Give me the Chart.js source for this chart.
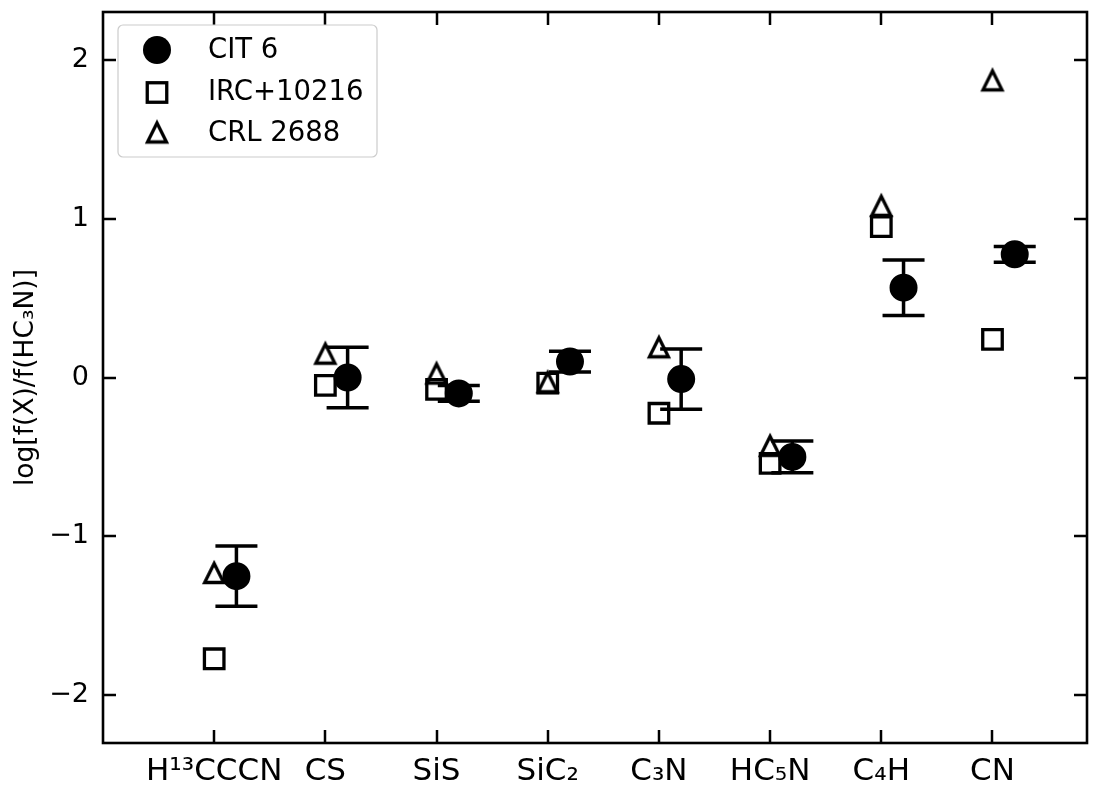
<!DOCTYPE html>
<html><head><meta charset="utf-8">
<script src="https://cdn.jsdelivr.net/npm/chart.js@4/dist/chart.umd.min.js"></script>
<style>html,body{margin:0;padding:0;background:#fff;} canvas{display:block;}</style>
</head><body>
<canvas id="c" width="1098" height="787"></canvas>
<script>
// ---- data ----
const categories = ['H¹³CCCN', 'CS', 'SiS', 'SiC₂', 'C₃N', 'HC₅N', 'C₄H', 'CN'];
const cit6      = [-1.25, 0.00, -0.10, 0.10, -0.01, -0.50, 0.565, 0.775];
const cit6Err   = [0.19, 0.19, 0.05, 0.065, 0.19, 0.10, 0.175, 0.05];
const irc10216  = [-1.77, -0.05, -0.075, -0.035, -0.225, -0.54, 0.95, 0.24];
const crl2688   = [-1.23, 0.15, 0.025, -0.03, 0.19, -0.43, 1.08, 1.87];
const yTickValues = [-2, -1, 0, 1, 2];
const seriesNames = ['CIT 6', 'IRC+10216', 'CRL 2688'];
const yTitle = 'log[f(X)/f(HC₃N)]';
const cit6Offset = 0.2;

const FONT = 'DejaVu Sans';
Chart.defaults.font.family = FONT;
Chart.defaults.color = '#000';

function makeTriangle(size, lw) {
  const c = document.createElement('canvas');
  const W = 30;
  c.width = W; c.height = W;
  const g = c.getContext('2d');
  g.lineWidth = lw; g.lineJoin = 'miter'; g.strokeStyle = '#000';
  const cx = W / 2, cy = W / 2, h = size / 2;
  g.beginPath();
  g.moveTo(cx, cy - h); g.lineTo(cx - h, cy + h); g.lineTo(cx + h, cy + h);
  g.closePath(); g.stroke();
  return c;
}
const triImg = makeTriangle(19, 3.3);

const pts = (arr, off) => arr.map((v, i) => ({x: i + 1 + off, y: v}));

const errorBars = {
  id: 'errorBars',
  beforeDatasetsDraw(chart) {
    const {ctx, scales: {x, y}} = chart;
    ctx.save();
    ctx.strokeStyle = '#000'; ctx.lineWidth = 3.5; ctx.lineCap = 'butt';
    cit6.forEach((v, i) => {
      const px = x.getPixelForValue(i + 1 + cit6Offset);
      const t = y.getPixelForValue(v + cit6Err[i]);
      const b = y.getPixelForValue(v - cit6Err[i]);
      ctx.beginPath();
      ctx.moveTo(px, t); ctx.lineTo(px, b);
      ctx.moveTo(px - 21, t); ctx.lineTo(px + 21, t);
      ctx.moveTo(px - 21, b); ctx.lineTo(px + 21, b);
      ctx.stroke();
    });
    ctx.restore();
  }
};

const frameTicks = {
  id: 'frameTicks',
  afterDatasetsDraw(chart) {
    const {ctx, chartArea: a, scales: {x, y}} = chart;
    ctx.save();
    ctx.strokeStyle = '#000';
    ctx.lineWidth = 2.5;
    const L = 13;
    ctx.beginPath();
    x.ticks.forEach(t => {
      const px = Math.round(x.getPixelForValue(t.value));
      ctx.moveTo(px, a.bottom); ctx.lineTo(px, a.bottom - L);
      ctx.moveTo(px, a.top); ctx.lineTo(px, a.top + L);
    });
    y.ticks.forEach(t => {
      const py = Math.round(y.getPixelForValue(t.value));
      ctx.moveTo(a.left, py); ctx.lineTo(a.left + L, py);
      ctx.moveTo(a.right, py); ctx.lineTo(a.right - L, py);
    });
    ctx.stroke();
    ctx.lineWidth = 2.6;
    ctx.strokeRect(a.left, a.top, a.right - a.left, a.bottom - a.top);
    ctx.restore();
  }
};

const legendBox = {
  id: 'legendBox',
  afterDraw(chart) {
    const {ctx, chartArea: a} = chart;
    const bx = a.left + 15, by = a.top + 13, bw = 259, bh = 132, r = 5;
    ctx.save();
    ctx.beginPath();
    ctx.moveTo(bx + r, by); ctx.lineTo(bx + bw - r, by);
    ctx.arcTo(bx + bw, by, bx + bw, by + r, r); ctx.lineTo(bx + bw, by + bh - r);
    ctx.arcTo(bx + bw, by + bh, bx + bw - r, by + bh, r); ctx.lineTo(bx + r, by + bh);
    ctx.arcTo(bx, by + bh, bx, by + bh - r, r); ctx.lineTo(bx, by + r);
    ctx.arcTo(bx, by, bx + r, by, r); ctx.closePath();
    ctx.fillStyle = 'rgba(255,255,255,0.8)'; ctx.fill();
    ctx.strokeStyle = '#cccccc'; ctx.lineWidth = 1.2; ctx.stroke();

    const mx = bx + 39, tx = bx + 90;
    const baselines = [by + 32.5, by + 74.5, by + 115.5];
    ctx.fillStyle = '#000'; ctx.strokeStyle = '#000';
    ctx.beginPath(); ctx.arc(mx, baselines[0] - 7.5, 14, 0, Math.PI * 2); ctx.fill();
    ctx.lineWidth = 3.3;
    ctx.strokeRect(mx - 9.75, baselines[1] - 7 - 9.75, 19.5, 19.5);
    ctx.drawImage(triImg, mx - 15, baselines[2] - 8 - 15);
    ctx.font = '27.5px "' + FONT + '"';
    ctx.textBaseline = 'alphabetic'; ctx.textAlign = 'left';
    seriesNames.forEach((n, i) => ctx.fillText(n, tx, baselines[i]));
    ctx.restore();
  }
};

new Chart(document.getElementById('c'), {
  type: 'scatter',
  data: {
    datasets: [
      {label: seriesNames[0], data: pts(cit6, cit6Offset), pointStyle: 'circle',
       pointRadius: 13, pointBorderWidth: 2, backgroundColor: '#000', borderColor: '#000'},
      {label: seriesNames[1], data: pts(irc10216, 0), pointStyle: 'rect',
       pointRadius: 13.8, pointBorderWidth: 3.3, backgroundColor: 'rgba(0,0,0,0)', borderColor: '#000'},
      {label: seriesNames[2], data: pts(crl2688, 0), pointStyle: triImg,
       pointRadius: 14, backgroundColor: 'rgba(0,0,0,0)', borderColor: '#000'}
    ]
  },
  options: {
    responsive: false,
    devicePixelRatio: 1,
    animation: false,
    events: [],
    layout: {autoPadding: false, padding: {top: 12, right: 11, left: 0, bottom: 0}},
    plugins: {legend: {display: false}, tooltip: {enabled: false}},
    scales: {
      x: {
        type: 'linear', min: 0, max: 8.85,
        grid: {display: false, drawTicks: false}, border: {display: false},
        afterBuildTicks: s => { s.ticks = categories.map((c, i) => ({value: i + 1})); },
        afterFit: s => { s.height = 44; s.paddingLeft = 0; s.paddingRight = 0; },
        ticks: {
          autoSkip: false, maxRotation: 0, minRotation: 0, padding: 10,
          font: {size: 31}, color: '#000',
          callback: v => categories[Math.round(v) - 1]
        }
      },
      y: {
        type: 'linear', min: -2.3, max: 2.3,
        grid: {display: false, drawTicks: false}, border: {display: false},
        afterBuildTicks: s => { s.ticks = yTickValues.map(v => ({value: v})); },
        afterFit: s => { s.width = 103; s.paddingTop = 0; s.paddingBottom = 0; },
        ticks: {
          padding: 14, font: {size: 27}, color: '#000',
          callback: v => (v < 0 ? '\u2212' + Math.abs(v) : String(v))
        },
        title: {display: true, text: yTitle, font: {size: 26.5}, color: '#000', padding: {top: 10, bottom: 0}}
      }
    }
  },
  plugins: [errorBars, frameTicks, legendBox]
});
</script>
</body></html>
